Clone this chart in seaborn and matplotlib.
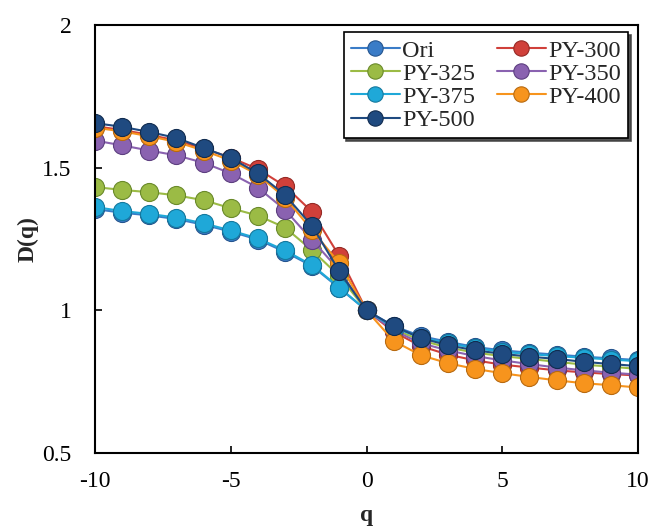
import numpy as np
import pandas as pd
import matplotlib
matplotlib.use("Agg")
import matplotlib.pyplot as plt
import seaborn as sns

q = list(range(-10, 11))
series_names = ["Ori", "PY-300", "PY-325", "PY-350", "PY-375", "PY-400", "PY-500"]

ori = [1.355, 1.342, 1.333, 1.320, 1.300, 1.276, 1.248, 1.205, 1.155, 1.078, 1.0,
       0.945, 0.910, 0.890, 0.872, 0.860, 0.852, 0.845, 0.838, 0.832, 0.826]
py300 = [1.645, 1.632, 1.615, 1.595, 1.567, 1.535, 1.495, 1.435, 1.345, 1.190, 1.0,
         0.925, 0.875, 0.845, 0.825, 0.810, 0.800, 0.790, 0.783, 0.777, 0.772]
py325 = [1.432, 1.422, 1.414, 1.403, 1.386, 1.358, 1.332, 1.290, 1.210, 1.120, 1.0,
         0.935, 0.895, 0.870, 0.852, 0.840, 0.830, 0.820, 0.810, 0.803, 0.795]
py350 = [1.595, 1.578, 1.560, 1.543, 1.517, 1.480, 1.430, 1.352, 1.246, 1.140, 1.0,
         0.930, 0.885, 0.860, 0.840, 0.825, 0.812, 0.800, 0.790, 0.782, 0.775]
py375 = [1.362, 1.348, 1.338, 1.325, 1.305, 1.280, 1.252, 1.210, 1.158, 1.080, 1.0,
         0.940, 0.905, 0.885, 0.868, 0.855, 0.847, 0.840, 0.834, 0.828, 0.822]
py400 = [1.640, 1.627, 1.610, 1.590, 1.560, 1.525, 1.475, 1.395, 1.280, 1.165, 1.0,
         0.893, 0.843, 0.815, 0.795, 0.780, 0.767, 0.755, 0.745, 0.738, 0.730]
py500 = [1.656, 1.643, 1.625, 1.604, 1.569, 1.534, 1.480, 1.404, 1.295, 1.137, 1.0,
         0.945, 0.903, 0.878, 0.860, 0.848, 0.838, 0.830, 0.820, 0.812, 0.805]

colors = ["#3a7cc7", "#d0403a", "#9bbb45", "#8a62b0", "#1fa8d8", "#f7941d", "#1f4a80"]
edges = ["#25558f", "#952a25", "#6a8a2a", "#5d3f80", "#15799e", "#b86a10", "#112c50"]

values = [ori, py300, py325, py350, py375, py400, py500]
df = pd.concat([pd.DataFrame({"q": q, "D": v, "name": n}) for n, v in zip(series_names, values)])

sns.set_style("white")
plt.rcParams['font.family'] = ['Liberation Serif', 'DejaVu Serif']
plt.rcParams['axes.unicode_minus'] = False

fig = plt.figure(figsize=(6.51, 5.30), dpi=100)
ax = fig.add_axes([0.146, 0.145, 0.834, 0.808])

for n, c, e in zip(series_names, colors, edges):
    sub = df[df["name"] == n]
    sns.lineplot(data=sub, x="q", y="D", color=c, marker="o", markersize=13,
                 markeredgecolor=e, markeredgewidth=0.8, linewidth=1.5,
                 label=n, ax=ax)

ax.set_xlim(-10, 10)
ax.set_ylim(0.5, 2)
ax.set_xticks([-10, -5, 0, 5, 10])
ax.set_yticks([0.5, 1, 1.5, 2])
ax.set_yticklabels(["0.5", "1", "1.5", "2"])
ax.tick_params(direction="in", length=5, width=1.2, labelsize=17, colors="black",
               top=False, right=False, bottom=True, left=True)
ax.tick_params(axis="x", pad=13)
ax.tick_params(axis="y", pad=17)
for s in ax.spines.values():
    s.set_color("black")
    s.set_linewidth(1.5)
ax.set_xlabel("q", fontsize=17, fontweight="bold", labelpad=9)
ax.set_ylabel("D(q)", fontsize=17, fontweight="bold")
ax.yaxis.set_label_coords(-0.104, 0.5)

# legend reads row by row: Ori, PY-300 / PY-325, PY-350 / ...
handles, labels = ax.get_legend_handles_labels()
order = [0, 2, 4, 6, 1, 3, 5]
leg = ax.legend([handles[i] for i in order], [labels[i] for i in order],
                loc="upper right", bbox_to_anchor=(0.995, 1.0), ncol=2, fontsize=17.5,
                frameon=True, fancybox=False, shadow={"color": "0.25", "alpha": 0.9},
                edgecolor="black",
                handlelength=2.0, handletextpad=0.1, columnspacing=0.9,
                labelspacing=0.05, borderpad=0.3, borderaxespad=0.3, markerscale=0.85)
leg.get_frame().set_linewidth(1.2)

fig.savefig("out.png", dpi=100)
